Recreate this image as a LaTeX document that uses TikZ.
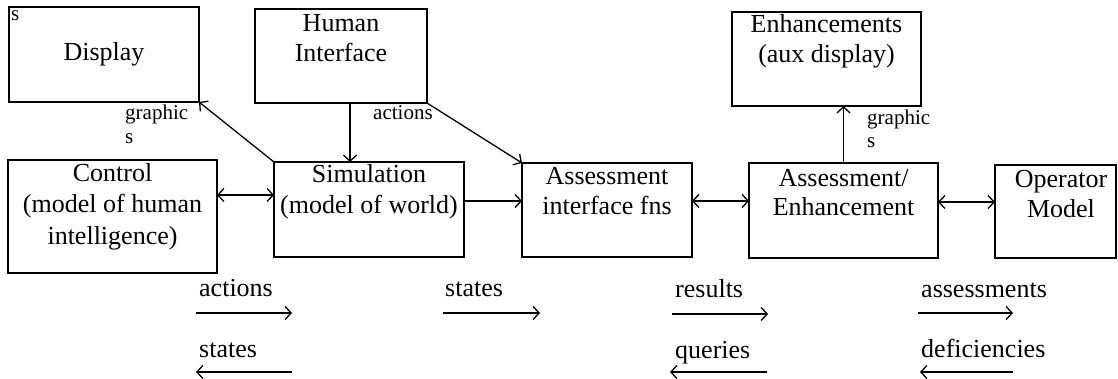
\documentclass[tikz,border=0pt]{standalone}
\usepackage{fontspec}
\setmainfont{Liberation Serif}
\usetikzlibrary{arrows.meta}
\begin{document}
\begin{tikzpicture}[x=1pt,y=-1pt,
  box/.style={draw, line width=1.4pt, inner sep=0pt, outer sep=0pt},
  txt/.style={font=\fontsize{26}{31}\selectfont, inner sep=0pt, anchor=base},
  lbl/.style={font=\fontsize{26}{31}\selectfont, inner sep=0pt, anchor=base west},
  sm/.style={font=\fontsize{21}{24}\selectfont, inner sep=0pt, anchor=base west},
  barb/.tip={Straight Barb[length=6pt,width=13pt,line width=1.3pt]},
  conn/.style={line width=1.3pt, -barb},
  both/.style={line width=1.3pt, barb-barb},
]
\useasboundingbox (0,0) rectangle (1118,379);
\fill[white] (0,0) rectangle (1118,379);

% boxes
\node[box, minimum width=190pt, minimum height=95pt] (disp) at (104,54.5) {};
\node[box, minimum width=172pt, minimum height=94pt] (hi) at (341,56) {};
\node[box, minimum width=189pt, minimum height=94pt] (enh) at (826.5,59) {};
\node[box, minimum width=209pt, minimum height=113pt] (ctrl) at (112.5,216.5) {};
\node[box, minimum width=190pt, minimum height=95pt] (sim) at (369,209.5) {};
\node[box, minimum width=170pt, minimum height=94pt] (aif) at (607,210) {};
\node[box, minimum width=189pt, minimum height=95pt] (ae) at (843.5,210.5) {};
\node[box, minimum width=121pt, minimum height=93pt] (om) at (1055.5,211.5) {};

% box texts
\node[txt] (dispA) at (104,61) {Display};
\node[txt] (hiA) at (341,32) {Human};
\node[txt] (hiB) at (341,62) {Interface};
\node[txt] (enhA) at (826.5,33) {Enhancements};
\node[txt] (enhB) at (826.5,63) {(aux display)};
\node[txt] (ctrlA) at (112.5,182) {Control};
\node[txt] (ctrlB) at (112.5,213) {(model of human};
\node[txt] (ctrlC) at (112.5,244) {intelligence)};
\node[txt] (simA) at (369,183) {Simulation};
\node[txt] (simB) at (369,214) {(model of world)};
\node[txt] (aifA) at (607,185) {Assessment};
\node[txt] (aifB) at (607,215) {interface fns};
\node[txt] (aeA) at (843.5,187) {Assessment/};
\node[txt] (aeB) at (843.5,216) {Enhancement};
\node[txt] (omA) at (1061,188) {Operator};
\node[txt] (omB) at (1061,218) {Model};

% small labels
\node[sm] (s0) at (11,21) {s};
\node[sm] (g1) at (125,120) {graphic};
\node[sm] (g1s) at (125,144) {s};
\node[sm] (act) at (373,120) {actions};
\node[sm] (g2) at (867,125) {graphic};
\node[sm] (g2s) at (867,148) {s};

% connectors between boxes
\coordinate (r1) at (0,195);
\coordinate (r2) at (0,201);
\coordinate (r3) at (0,202);
\coordinate (c1) at (350,0);
\draw[both] (ctrl.east |- r1) -- (sim.west |- r1);
\draw[conn] (sim.east |- r2) -- (aif.west |- r2);
\draw[both] (aif.east |- r2) -- (ae.west |- r2);
\draw[both] (ae.east |- r3) -- (om.west |- r3);
\draw[conn] (sim.north west) -- (disp.south east);
\draw[conn] (hi.south east) -- (aif.north west);
\draw[conn] (hi.south -| c1) -- (sim.north -| c1);
\draw[conn] (ae.north) -- (enh.south -| ae.north);

% bottom legend
\node[lbl] (l1) at (199,296) {actions};
\node[lbl] (l2) at (199,357) {states};
\node[lbl] (l3) at (445,296) {states};
\node[lbl] (l4) at (675,297) {results};
\node[lbl] (l5) at (675,358) {queries};
\node[lbl] (l6) at (921,297) {assessments};
\node[lbl] (l7) at (921,357) {deficiencies};

\coordinate (a1s) at (196,313); \coordinate (a1e) at (292,313);
\coordinate (a2s) at (292,372); \coordinate (a2e) at (196,372);
\coordinate (a3s) at (443,313); \coordinate (a3e) at (540,313);
\coordinate (a4s) at (672,314); \coordinate (a4e) at (768,314);
\coordinate (a5s) at (767,372); \coordinate (a5e) at (670,372);
\coordinate (a6s) at (918,313); \coordinate (a6e) at (1013,313);
\coordinate (a7s) at (1013,372); \coordinate (a7e) at (920,372);
\draw[conn] (a1s) -- (a1e);
\draw[conn] (a2s) -- (a2e);
\draw[conn] (a3s) -- (a3e);
\draw[conn] (a4s) -- (a4e);
\draw[conn] (a5s) -- (a5e);
\draw[conn] (a6s) -- (a6e);
\draw[conn] (a7s) -- (a7e);
\end{tikzpicture}
\end{document}
